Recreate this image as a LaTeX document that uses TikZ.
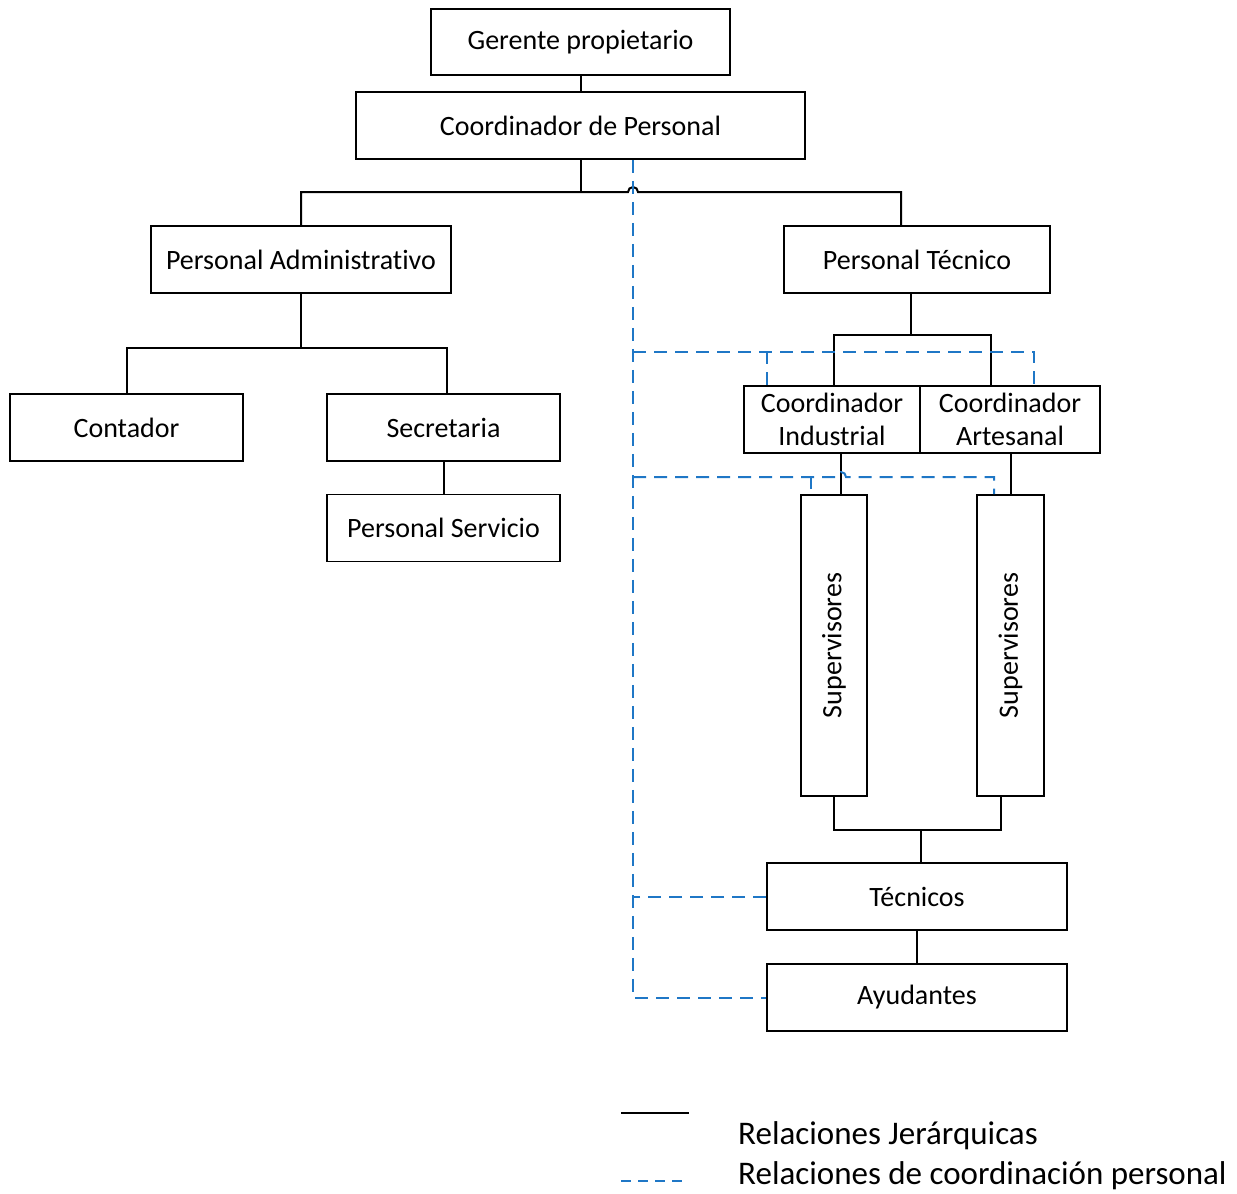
\documentclass[tikz,border=0pt]{standalone}
\usepackage{fontspec}
\setmainfont{Carlito}[Ligatures=NoCommon]
\usetikzlibrary{calc}
\definecolor{coordblue}{RGB}{31,119,198}
\begin{document}
\begin{tikzpicture}[x=1pt,y=-1pt,
  box/.style={draw=black, line width=1.8pt, inner sep=0pt, align=center,
    font=\fontsize{28}{33}\selectfont},
  hier/.style={draw=black, line width=2pt},
  coord/.style={draw=coordblue, line width=2pt, dash pattern=on 13pt off 8pt},
  legtext/.style={anchor=west, inner sep=0pt, font=\fontsize{33}{36}\selectfont},
]
\path[use as bounding box] (0,0) rectangle (1237,1194);

% boxes
\node[box, minimum width=299pt, minimum height=66pt] (gp) at (580.5,42) {Gerente propietario};
\node[box, minimum width=449pt, minimum height=67pt] (cp) at (580.5,125.5) {Coordinador de Personal};
\node[box, minimum width=300pt, minimum height=67pt] (pa) at (301,259.5) {Personal Administrativo};
\node[box, minimum width=266pt, minimum height=67pt] (pt) at (917,259.5) {Personal Técnico};
\node[box, minimum width=233pt, minimum height=67pt] (ct) at (126.5,427.5) {Contador};
\node[box, minimum width=233pt, minimum height=67pt] (sec) at (443.5,427.5) {Secretaria};
\node[box, minimum width=233pt, minimum height=67pt] (ps) at (443.5,528) {Personal Servicio};
\node[box, minimum width=176pt, minimum height=67pt] (ci) at (832,419.5) {Coordinador\\Industrial};
\node[box, minimum width=180pt, minimum height=67pt] (ca) at (1010,419.5) {Coordinador\\Artesanal};
\node[box, rotate=90, minimum width=301pt, minimum height=66pt] (sv1) at (834,645.5) {Supervisores};
\node[box, rotate=90, minimum width=301pt, minimum height=67pt] (sv2) at (1010.5,645.5) {Supervisores};
\node[box, minimum width=300pt, minimum height=67pt] (tec) at (917,896.5) {Técnicos};
\node[box, minimum width=300pt, minimum height=67pt] (ay) at (917,997.5) {Ayudantes};

% hierarchical relations
\coordinate (j1) at (580.5,192);
\draw[hier] (gp.south) -- (cp.north);
\draw[hier] (cp.south) -- (j1);
\draw[hier] (pa.north) |- (j1) -- (628,192) arc[start angle=180, end angle=0, radius=5pt]
  -| ($(pt.north)+(-16,0)$);

\coordinate (j2) at (301,348);
\draw[hier] (pa.south) -- (j2);
\draw[hier] (ct.north) |- (j2) -| ($(sec.north)+(3.5,0)$);
\draw[hier] (sec.south) -- (ps.north);

\coordinate (j3) at (911,335);
\draw[hier] ($(pt.south)+(-6,0)$) -- (j3);
\draw[hier] ($(ci.north)+(2,0)$) |- (j3) -| ($(ca.north)+(-19,0)$);
\draw[hier] ($(ci.south)+(9,0)$) -- ($(sv1.east)+(7,0)$);
\draw[hier] ($(ca.south)+(1,0)$) -- ($(sv2.east)+(0.5,0)$);

\coordinate (j4) at (921,830);
\draw[hier] (sv1.west) |- (j4) -| ($(sv2.west)+(-9.5,0)$);
\draw[hier] ($(tec.north)+(4,0)$) -- (j4);
\draw[hier] (tec.south) -- (ay.north);

% coordination relations
\coordinate (dA) at (633,352);
\coordinate (dB) at (633,477);
\draw[coord] ($(cp.south)+(52.5,0)$) |- (ay.west);
\draw[coord] (tec.west) -- (tec.west -| dA);
\draw[coord] (dA) -| ($(ca.north)+(24,0)$);
\draw[coord] ($(ci.north)+(-65,-34)$) -- ($(ci.north)+(-65,0)$);
\draw[coord] (dB) -- (836,477) arc[start angle=180, end angle=0, radius=5pt]
  -| ($(sv2.east)+(-16.5,0)$);
\draw[coord] ($(sv1.east)+(-23,-18)$) -- ($(sv1.east)+(-23,0)$);

% legend
\coordinate (la) at (621,1113);
\coordinate (lb) at (689,1113);
\coordinate (lc) at (621,1181);
\coordinate (ld) at (689,1181);
\draw[hier] (la) -- (lb);
\draw[coord, dash pattern=on 10pt off 7pt] (lc) -- (ld);
\node[legtext] (lt1) at (738,1136) {Relaciones Jerárquicas};
\node[legtext] (lt2) at (738,1176) {Relaciones de coordinación personal};
\end{tikzpicture}
\end{document}
